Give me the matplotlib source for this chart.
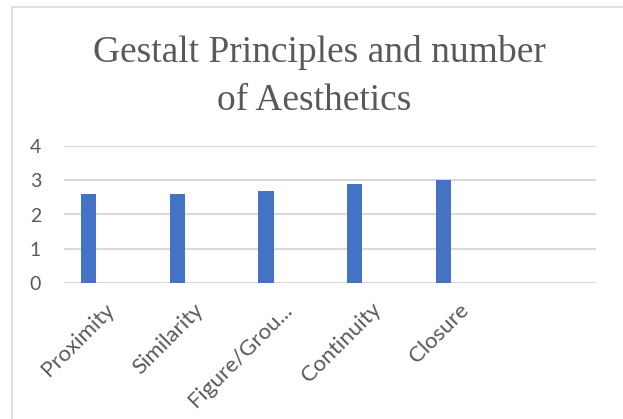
import matplotlib.pyplot as plt
from matplotlib.lines import Line2D
import matplotlib.transforms as mtransforms

# Chart data
categories = ["Proximity", "Similarity", "Figure/Grou...", "Continuity", "Closure", ""]
aesthetics = [2.6, 2.6, 2.7, 2.9, 3.0, None]

text_grey = "#595959"
grid_grey = "#d9d9d9"
bar_blue = "#4472c4"

W, H = 623, 419
fig = plt.figure(figsize=(W / 100, H / 100), dpi=100)
ax = fig.add_axes([64 / W, 1 - 283 / H, 532 / W, 137 / H])

slots = list(range(len(categories)))
xs = [s - 0.222 for s, v in zip(slots, aesthetics) if v is not None]
vals = [v for v in aesthetics if v is not None]
ax.bar(xs, vals, width=0.173, color=bar_blue, zorder=3)

ax.set_xlim(-0.5, len(categories) - 0.5)
ax.set_ylim(0, 4)
ax.set_yticks([0, 1, 2, 3, 4])
ax.yaxis.grid(True, color=grid_grey, linewidth=1.5, zorder=0)
for s in ax.spines.values():
    s.set_visible(False)

ax.tick_params(axis="y", length=0, pad=16.5, labelsize=14, labelcolor=text_grey)
ax.tick_params(axis="x", length=0, pad=6)
for lbl in ax.get_yticklabels():
    lbl.set_family("Lato")

ax.set_xticks(slots)
ax.set_xticklabels(categories, rotation=45, ha="right", va="top",
                   rotation_mode="anchor", fontsize=16, color=text_grey,
                   family="Lato")
offset = mtransforms.ScaledTranslation(-4 / 100, -8 / 100, fig.dpi_scale_trans)
for lbl in ax.get_xticklabels():
    lbl.set_transform(lbl.get_transform() + offset)

# Title, two lines
fig.text(319 / W, 1 - 62 / H, "Gestalt Principles and number", ha="center",
         va="baseline", fontsize=27, family="Liberation Serif", color=text_grey)
fig.text(314 / W, 1 - 110 / H, "of Aesthetics", ha="center",
         va="baseline", fontsize=27, family="Liberation Serif", color=text_grey)

# Chart area frame (left and top edges)
fig.add_artist(Line2D([11.5 / W, 11.5 / W], [0, 1 - 7 / H],
                      transform=fig.transFigure, color=grid_grey, linewidth=1.2))
fig.add_artist(Line2D([11.5 / W, 1], [1 - 7 / H, 1 - 7 / H],
                      transform=fig.transFigure, color=grid_grey, linewidth=1.2))

fig.savefig("out.png", dpi=100)
